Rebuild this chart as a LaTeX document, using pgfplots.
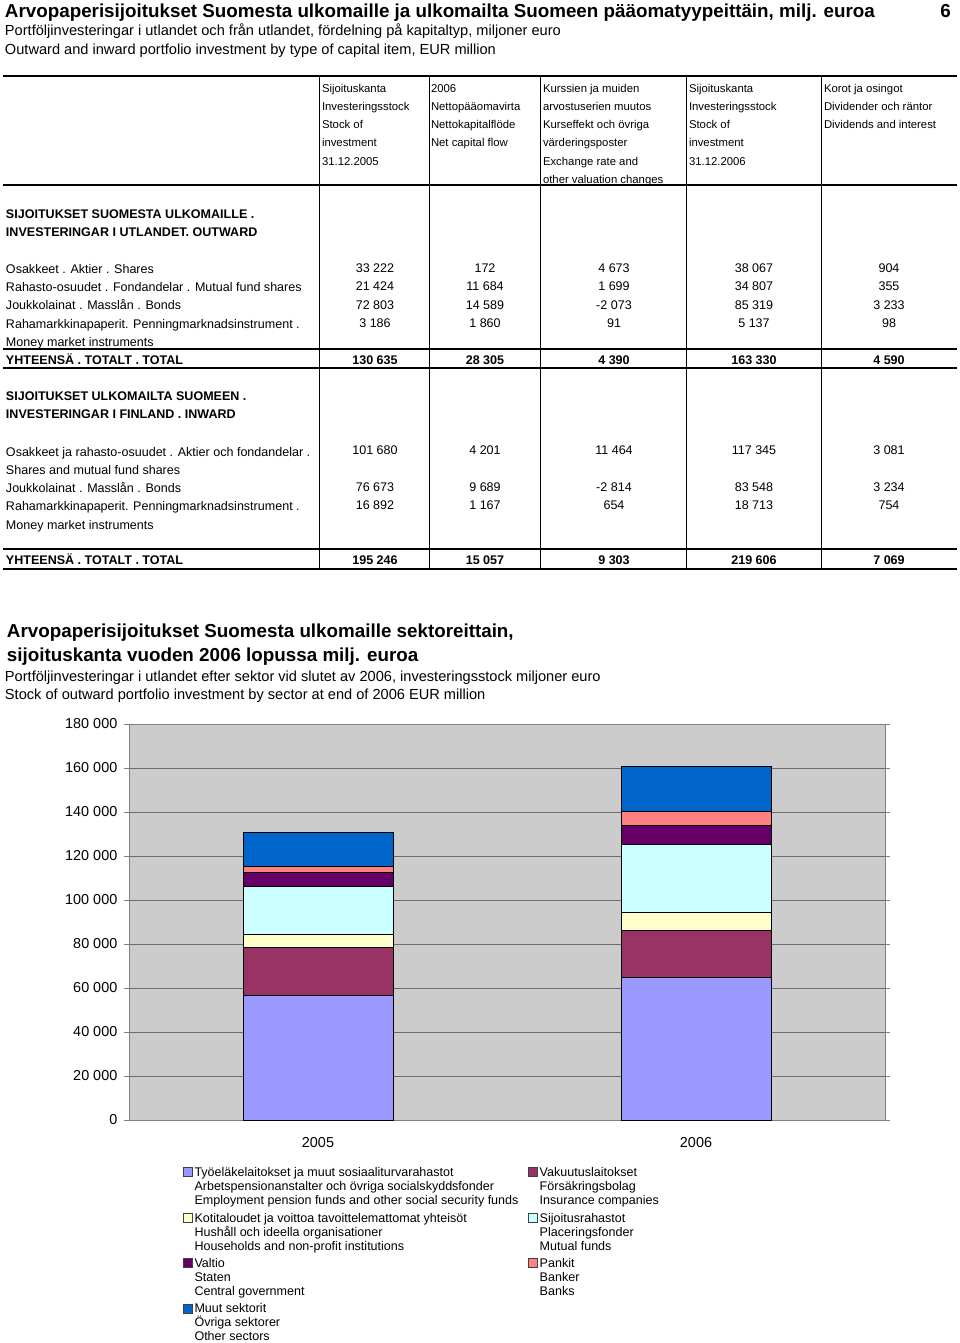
\documentclass[border=0pt]{standalone}
\usepackage{fontspec}
\setmainfont{Liberation Sans}
\usepackage{pgfplots}
\pgfplotsset{compat=1.18}
\definecolor{cA}{HTML}{9999FF}
\definecolor{cB}{HTML}{993366}
\definecolor{cC}{HTML}{FFFFCC}
\definecolor{cD}{HTML}{CCFFFF}
\definecolor{cE}{HTML}{660066}
\definecolor{cF}{HTML}{FF8080}
\definecolor{cG}{HTML}{0066CC}
\definecolor{bgc}{HTML}{CCCCCC}
\newcommand\fTA{\fontsize{14.1pt}{16pt}\selectfont\bfseries}
\newcommand\fTB{\fontsize{10.95pt}{13pt}\selectfont}
\newcommand\fTH{\fontsize{8.5pt}{10pt}\selectfont}
\newcommand\fTR{\fontsize{9.4pt}{11pt}\selectfont}
\newcommand\nrow[6]{%
  \node[tn] at (375,#1) {#2};
  \node[tn] at (485,#1) {#3};
  \node[tn] at (614,#1) {#4};
  \node[tn] at (754,#1) {#5};
  \node[tn] at (889,#1) {#6};}
\newcommand\nrowb[6]{%
  \node[tn,font=\fTR\bfseries] at (375,#1) {#2};
  \node[tn,font=\fTR\bfseries] at (485,#1) {#3};
  \node[tn,font=\fTR\bfseries] at (614,#1) {#4};
  \node[tn,font=\fTR\bfseries] at (754,#1) {#5};
  \node[tn,font=\fTR\bfseries] at (889,#1) {#6};}
\begin{document}
\begin{tikzpicture}[x=0.75pt,y=-0.75pt,
  tl/.style={anchor=base west, inner sep=0pt, outer sep=0pt},
  th/.style={tl, font=\fTH},
  tb/.style={tl, font=\fTR},
  tbb/.style={tl, font=\fTR\bfseries},
  tn/.style={anchor=base, inner sep=0pt, outer sep=0pt, font=\fTR}]
\useasboundingbox (0,0) rectangle (960,1343);
% ---------- page titles
\node[tl,font=\fTA] at (5,17.5) {Arvopaperisijoitukset Suomesta ulkomaille ja ulkomailta Suomeen pääomatyypeittäin, milj. euroa};
\node[anchor=base east,inner sep=0pt,font=\fTA] at (951,17.5) {6};
\node[tl,font=\fTB] at (5,35) {Portföljinvesteringar i utlandet och från utlandet, fördelning på kapitaltyp, miljoner euro};
\node[tl,font=\fTB] at (5,54) {Outward and inward portfolio investment by type of capital item, EUR million};
% ---------- table rules
\draw[line width=1.6pt] (3,76) -- (957,76);
\draw[line width=1.2pt] (3,185) -- (957,185);
\draw[line width=1.2pt] (3,349) -- (957,349);
\draw[line width=1.2pt] (3,368) -- (957,368);
\draw[line width=1.2pt] (3,549) -- (957,549);
\draw[line width=1.2pt] (3,569) -- (957,569);
\foreach \xx in {319,429,540,686,821} \draw[line width=0.7pt] (\xx,76) -- (\xx,569);
% ---------- header
\foreach \yy/\t in {92/Sijoituskanta,110/Investeringsstock,128/Stock of,146/investment,165/31.12.2005} \node[th] at (322,\yy) {\t};
\foreach \yy/\t in {92/2006,110/Nettopääomavirta,128/Nettokapitalflöde,146/Net capital flow} \node[th] at (431,\yy) {\t};
\foreach \yy/\t in {92/Kurssien ja muiden,110/arvostuserien muutos,128/Kurseffekt och övriga,146/värderingsposter,165/Exchange rate and,183/other valuation changes} \node[th] at (543,\yy) {\t};
\foreach \yy/\t in {92/Sijoituskanta,110/Investeringsstock,128/Stock of,146/investment,165/31.12.2006} \node[th] at (689,\yy) {\t};
\foreach \yy/\t in {92/Korot ja osingot,110/Dividender och räntor,128/Dividends and interest} \node[th] at (824,\yy) {\t};
% ---------- outward
\node[tbb] at (6,218.5) {SIJOITUKSET SUOMESTA ULKOMAILLE .};
\node[tbb] at (6,236.5) {INVESTERINGAR I UTLANDET. OUTWARD};
\node[tb] at (6,273.5) {Osakkeet . Aktier . Shares};
\node[tb] at (6,291.5) {Rahasto-osuudet . Fondandelar . Mutual fund shares};
\node[tb] at (6,309.5) {Joukkolainat . Masslån . Bonds};
\node[tb] at (6,328.5) {Rahamarkkinapaperit. Penningmarknadsinstrument .};
\node[tb] at (6,346.5) {Money market instruments};
\node[tbb] at (6,364.5) {YHTEENSÄ . TOTALT . TOTAL};
\nrow{272.5}{33 222}{172}{4 673}{38 067}{904}
\nrow{290.5}{21 424}{11 684}{1 699}{34 807}{355}
\nrow{309.5}{72 803}{14 589}{-2 073}{85 319}{3 233}
\nrow{327.5}{3 186}{1 860}{91}{5 137}{98}
\nrowb{364.5}{130 635}{28 305}{4 390}{163 330}{4 590}
% ---------- inward
\node[tbb] at (6,400.5) {SIJOITUKSET ULKOMAILTA SUOMEEN .};
\node[tbb] at (6,418.5) {INVESTERINGAR I FINLAND . INWARD};
\node[tb] at (6,456.5) {Osakkeet ja rahasto-osuudet . Aktier och fondandelar .};
\node[tb] at (6,474.5) {Shares and mutual fund shares};
\node[tb] at (6,492.5) {Joukkolainat . Masslån . Bonds};
\node[tb] at (6,510.5) {Rahamarkkinapaperit. Penningmarknadsinstrument .};
\node[tb] at (6,529.5) {Money market instruments};
\node[tbb] at (6,564.5) {YHTEENSÄ . TOTALT . TOTAL};
\nrow{454.5}{101 680}{4 201}{11 464}{117 345}{3 081}
\nrow{491.5}{76 673}{9 689}{-2 814}{83 548}{3 234}
\nrow{509.5}{16 892}{1 167}{654}{18 713}{754}
\nrowb{564.5}{195 246}{15 057}{9 303}{219 606}{7 069}
% ---------- chart titles
\node[tl,font=\fTA] at (7,637.5) {Arvopaperisijoitukset Suomesta ulkomaille sektoreittain,};
\node[tl,font=\fTA] at (7,661.5) {sijoituskanta vuoden 2006 lopussa milj. euroa};
\node[tl,font=\fTB] at (5,681) {Portföljinvesteringar i utlandet efter sektor vid slutet av 2006, investeringsstock miljoner euro};
\node[tl,font=\fTB] at (5,699) {Stock of outward portfolio investment by sector at end of 2006 EUR million};
% ---------- chart
\coordinate (O) at (129,1120);
\begin{axis}[
  at={(O)}, anchor=south west,
  scale only axis, width=567pt, height=297pt,
  ybar stacked, bar width=112.5pt,
  xmin=-0.5, xmax=1.5, ymin=0, ymax=180000,
  xtick={0,1}, xticklabels={2005,2006},
  major x tick style={draw=none},
  extra x ticks={0.5}, extra x tick labels={},
  extra x tick style={major tick style={draw=gray}, grid=none},
  ytick={0,20000,...,180000},
  scaled y ticks=false,
  yticklabel={\pgfmathprintnumber[fixed,1000 sep={\ },assume math mode=true]{\tick}},
  ticklabel style={font=\fontsize{10.8pt}{12pt}\selectfont},
  xticklabel style={yshift=-6pt},
  yticklabel style={xshift=-1.5pt},
  ymajorgrids, grid style={draw=gray!85!black, line width=0.7pt},
  axis line style={draw=gray, line width=0.7pt},
  tick align=outside, major tick length=3.75pt, tick style={draw=gray},
  axis background/.style={fill=bgc},
  every axis plot post/.append style={legend image code/.code={\draw[#1,draw=black!75,line width=0.5pt] (0pt,-6.75pt) rectangle (6.75pt,0pt);}},
  legend columns=2,
  legend cell align=left,
  legend style={at={(0.0714,-0.1187)}, anchor=north west, draw=none, fill=none,
    inner sep=0pt, font=\fontsize{9.4pt}{10.5pt}\selectfont,
    cells={anchor=north west}, nodes={align=left, inner sep=0pt, outer sep=0pt},
    column sep=1.2pt, row sep=4.5pt,
    /tikz/every even column/.append style={column sep=7.5pt}},
]
\addplot[fill=cA, draw=black, line width=0.75pt] coordinates {(0,56700) (1,64900)};
\addlegendentry{Työeläkelaitokset ja muut sosiaaliturvarahastot\\Arbetspensionanstalter och övriga socialskyddsfonder\\Employment pension funds and other social security funds}
\addplot[fill=cB, draw=black, line width=0.75pt] coordinates {(0,21650) (1,21300)};
\addlegendentry{Vakuutuslaitokset\\Försäkringsbolag\\Insurance companies}
\addplot[fill=cC, draw=black, line width=0.75pt] coordinates {(0,6050) (1,8300)};
\addlegendentry{Kotitaloudet ja voittoa tavoittelemattomat yhteisöt\\Hushåll och ideella organisationer\\Households and non-profit institutions}
\addplot[fill=cD, draw=black, line width=0.75pt] coordinates {(0,21600) (1,30700)};
\addlegendentry{Sijoitusrahastot\\Placeringsfonder\\Mutual funds}
\addplot[fill=cE, draw=black, line width=0.75pt] coordinates {(0,6650) (1,8500)};
\addlegendentry{Valtio\\Staten\\Central government}
\addplot[fill=cF, draw=black, line width=0.75pt] coordinates {(0,2700) (1,6650)};
\addlegendentry{Pankit\\Banker\\Banks}
\addplot[fill=cG, draw=black, line width=0.75pt] coordinates {(0,15285) (1,20300)};
\addlegendentry{Muut sektorit\\Övriga sektorer\\Other sectors}
\end{axis}
\end{tikzpicture}
\end{document}
